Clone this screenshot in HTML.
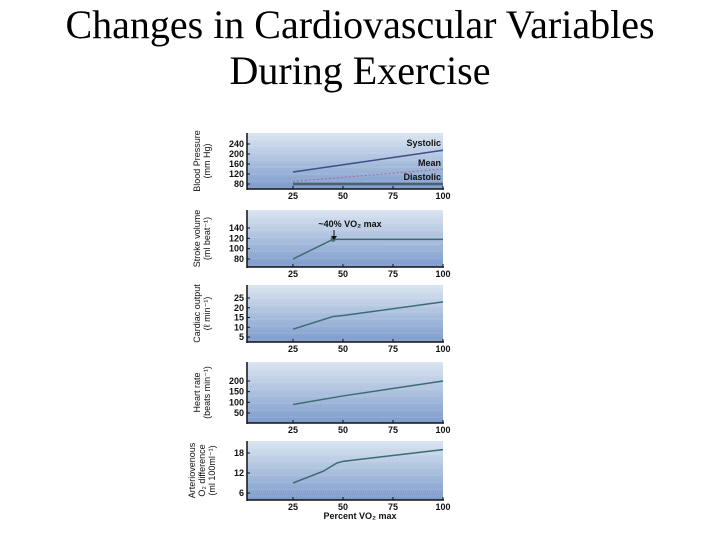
<!DOCTYPE html>
<html><head><meta charset="utf-8"><style>
body{margin:0;background:#fff;width:720px;height:540px;overflow:hidden}
svg{display:block}
.t{font-family:"Liberation Serif",serif;font-size:40px;fill:#000}
.k{font-family:"Liberation Sans",sans-serif;font-size:9px;font-weight:bold;fill:#111}
.y{font-family:"Liberation Sans",sans-serif;font-size:9px;fill:#111}
</style></head><body>
<svg id="c" width="720" height="540">
<defs><linearGradient id="bg" x1="0" y1="0" x2="0" y2="1"><stop offset="0" stop-color="#dbe5f0"/><stop offset="1" stop-color="#7d9bcb"/></linearGradient></defs>
<text class="t" x="360" y="38" text-anchor="middle">Changes in Cardiovascular Variables</text>
<text class="t" x="360" y="84" text-anchor="middle">During Exercise</text>
</svg>
<script>
const xTicks=[25,50,75,100];
const bpTicks=[80,120,160,200,240];
const systolicX=[25,100], systolicY=[128,215];
const meanX=[25,100], meanY=[90,140];
const diastolicX=[25,100], diastolicY=[80,80];
const svTicks=[80,100,120,140];
const svX=[25,45,100], svY=[80,118,118];
const coTicks=[5,10,15,20,25];
const coX=[25,45,50,100], coY=[9,15.5,16,23];
const hrTicks=[50,100,150,200];
const hrX=[25,50,100], hrY=[90,130,200];
const avTicks=[6,12,18];
const avX=[25,40,47,50,100], avY=[9,12.5,15,15.5,19];

const svg=document.getElementById('c');
const NS='http://www.w3.org/2000/svg';
function mk(t,a,txt){const e=document.createElementNS(NS,t);for(const k in a)e.setAttribute(k,a[k]);if(txt!=null)e.textContent=txt;svg.appendChild(e);return e;}
const X0=247,X1=443;
function sx(v){return 243+2*v;}
function panel(name,top,bot,ymin,ymax,yTick0,yTick1,ticks,label,series){
  const sy=v=>yTick0+(v-ymin)*(yTick1-yTick0)/(ymax-ymin);
  let e=mk('rect',{x:X0,y:top,width:X1-X0,height:bot-top,fill:'url(#bg)'});
  
  for(let yy=top+6;yy<bot;yy+=7){mk('line',{x1:X0,x2:X1,y1:yy,y2:yy,stroke:'#fff','stroke-opacity':0.25,'stroke-dasharray':'1 1'});}
  mk('line',{x1:X0,x2:X0,y1:top,y2:bot+1,stroke:'#111','stroke-width':1.5});
  mk('line',{x1:X0,x2:X1+1,y1:bot,y2:bot,stroke:'#111','stroke-width':1.5});
  xTicks.forEach(v=>{mk('line',{x1:sx(v),x2:sx(v),y1:bot,y2:bot-3,stroke:'#111'});
    e=mk('text',{class:'k',x:sx(v),y:bot+10,'text-anchor':'middle'},String(v));
    });
  ticks.forEach(v=>{mk('line',{x1:X0,x2:X0+3,y1:sy(v),y2:sy(v),stroke:'#111'});
    e=mk('text',{class:'k',x:X0-3,y:sy(v)+3,'text-anchor':'end'},String(v));
    });
  const cy=(top+bot)/2;
  e=mk('text',{class:'y',transform:`translate(202,${cy}) rotate(-90)`,'text-anchor':'middle'});
  
  label.forEach((l,i)=>{const ts=document.createElementNS(NS,'tspan');ts.setAttribute('x',0);ts.setAttribute('y',i*10-(label.length-1)*5+3);ts.textContent=l;e.appendChild(ts);});
  series.forEach(s=>{const pts=s.x.map((v,i)=>sx(v)+','+sy(s.y[i])).join(' ');
    e=mk('polyline',{points:pts,fill:'none',stroke:s.c,'stroke-width':s.w||1.5,'stroke-dasharray':s.d||''});
    });
  return sy;
}
panel('blood-pressure',133,189,80,240,184,144,bpTicks,['Blood Pressure','(mm Hg)'],[
 {x:systolicX,y:systolicY,c:'#3c4f86',n:'systolic-line'},
 {x:meanX,y:meanY,c:'#b06a8a',d:'2 2',w:1,n:'mean-line'},
 {x:diastolicX,y:diastolicY,c:'#4a5f70',w:2.5,n:'diastolic-line'}]);
[['Systolic',146],['Mean',166],['Diastolic',180]].forEach(a=>{const e=mk('text',{class:'k',x:441,y:a[1],'text-anchor':'end'},a[0]);
 });
const svy=panel('stroke-volume',210,267,80,140,259,228,svTicks,['Stroke volume','(ml beat⁻¹)'],[
 {x:svX,y:svY,c:'#3c6c72',n:'stroke-volume-line'}]);
let e=mk('circle',{cx:sx(svX[1]),cy:svy(svY[1]),r:2.5,fill:'#3c7a6a'});

e=mk('text',{class:'k',x:350,y:227,'text-anchor':'middle'},'~40% VO₂ max');

mk('line',{x1:334,x2:334,y1:230,y2:238,stroke:'#111'});mk('path',{d:'M331,236 L334,240 L337,236 Z',fill:'#111'});
panel('cardiac-output',285,342,5,25,337,298,coTicks,['Cardiac output','(ℓ min⁻¹)'],[
 {x:coX,y:coY,c:'#3c6c72',n:'cardiac-output-line'}]);
panel('heart-rate',362,423,50,200,413,381,hrTicks,['Heart rate','(beats min⁻¹)'],[
 {x:hrX,y:hrY,c:'#3c6c72',n:'heart-rate-line'}]);
panel('av-difference',441,500,6,18,493,453,avTicks,['Arteriovenous','O₂ difference','(ml 100ml⁻¹)'],[
 {x:avX,y:avY,c:'#3c6c72',n:'av-difference-line'}]);
e=mk('text',{class:'k',x:360,y:519,'text-anchor':'middle'},'Percent VO₂ max');

</script>
</body></html>
